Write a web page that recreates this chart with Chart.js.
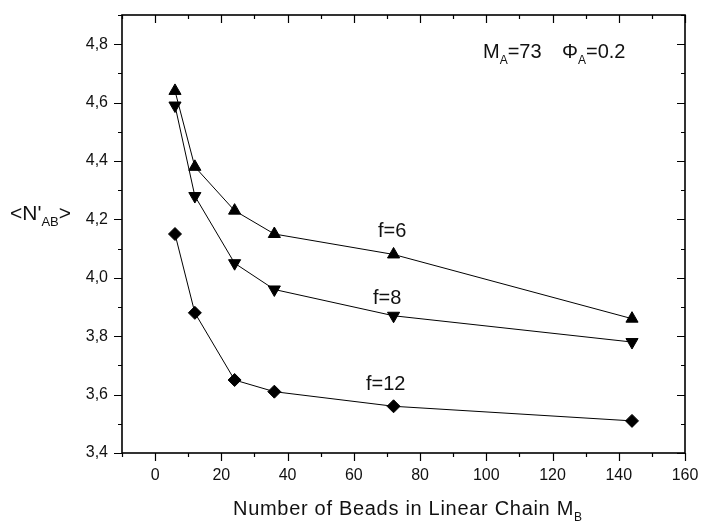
<!DOCTYPE html>
<html>
<head>
<meta charset="utf-8">
<script src="https://cdn.jsdelivr.net/npm/chart.js@4.4.0/dist/chart.umd.min.js"></script>
<style>
  html, body { margin: 0; padding: 0; background: #fff; }
  #plot { display: block; }
</style>
</head>
<body>
<canvas id="plot" width="706" height="523"></canvas>
<script>
// chain lengths M_B
const beads = [6, 12, 24, 36, 72, 144];
// <N'_AB> for each functionality
const f6 = [4.64, 4.38, 4.23, 4.15, 4.08, 3.86];
const f8 = [4.59, 4.28, 4.05, 3.96, 3.87, 3.78];
const f12 = [4.15, 3.88, 3.65, 3.61, 3.56, 3.51];

const xTicks = [0, 20, 40, 60, 80, 100, 120, 140, 160];
const yTicks = [3.4, 3.6, 3.8, 4.0, 4.2, 4.4, 4.6, 4.8];

const FONT = '"Liberation Sans", Arial, sans-serif';

function pts(ys) {
    return beads.map((x, i) => ({x: x, y: ys[i]}));
}

function series(label, ys, style, rot, r) {
    return {
        label: label,
        data: pts(ys),
        showLine: true,
        borderColor: '#000',
        borderWidth: 1,
        backgroundColor: '#000',
        pointBackgroundColor: '#000',
        pointBorderColor: '#000',
        pointBorderWidth: 1,
        pointStyle: style,
        pointRotation: rot,
        pointRadius: r,
        pointHoverRadius: r
    };
}

// text with subscript chunks: parts = [[text, isSub], ...]
function drawRich(ctx, x, y, parts, size, spacing) {
    let cx = x;
    ctx.letterSpacing = (spacing || 0) + 'px';
    parts.forEach(p => {
        const sub = p[1];
        ctx.font = (sub ? Math.round(size * 0.62) : size) + 'px ' + FONT;
        ctx.fillText(p[0], cx, sub ? y + size * 0.3 : y);
        cx += ctx.measureText(p[0]).width;
    });
    ctx.letterSpacing = '0px';
}

// no extra room for labels, keep the plot box fixed
function noPad(s) {
    s.paddingLeft = 0; s.paddingRight = 0;
    s.paddingTop = 0; s.paddingBottom = 0;
}

const framePlugin = {
    id: 'frame',
    afterDraw(chart) {
        const ctx = chart.ctx;
        const a = chart.chartArea;
        const xs = chart.scales.x, ys = chart.scales.y;
        ctx.save();
        ctx.strokeStyle = '#000';
        ctx.lineWidth = 1.6;
        ctx.strokeRect(a.left, a.top, a.right - a.left, a.bottom - a.top);

        ctx.lineWidth = 1.2;
        ctx.beginPath();
        // x ticks every 10, major every 20
        for (let v = -10; v <= 160; v += 10) {
            const px = Math.round(xs.getPixelForValue(v)) + 0.5;
            const len = v % 20 === 0 ? 8 : 4;
            ctx.moveTo(px, a.bottom); ctx.lineTo(px, a.bottom + len);
            ctx.moveTo(px, a.top); ctx.lineTo(px, a.top + len);
        }
        // y ticks every 0.1, major every 0.2
        for (let k = 34; k <= 49; k++) {
            const py = Math.round(ys.getPixelForValue(k / 10)) + 0.5;
            const len = k % 2 === 0 ? 8 : 4;
            ctx.moveTo(a.left, py); ctx.lineTo(a.left - len, py);
            ctx.moveTo(a.right, py); ctx.lineTo(a.right - len, py);
        }
        ctx.stroke();

        ctx.fillStyle = '#111';
        ctx.textBaseline = 'alphabetic';
        ctx.textAlign = 'left';

        // series labels
        ctx.font = '20px ' + FONT;
        ctx.fillText('f=6', 378, 237);
        ctx.fillText('f=8', 373, 304);
        ctx.fillText('f=12', 366, 390);

        // parameters
        drawRich(ctx, 483, 58, [['M', false], ['A', true], ['=73', false]], 20);
        drawRich(ctx, 562, 58, [['\u03A6', false], ['A', true], ['=0.2', false]], 20);

        // axis titles
        drawRich(ctx, 10, 220, [['<N\'', false], ['AB', true], ['>', false]], 21);
        drawRich(ctx, 233, 515, [['Number of Beads in Linear Chain M', false], ['B', true]], 20, 0.7);
        ctx.restore();
    }
};

new Chart(document.getElementById('plot'), {
    type: 'scatter',
    data: {
        datasets: [
            series('f=6', f6, 'triangle', 0, 7),
            series('f=8', f8, 'triangle', 180, 7),
            series('f=12', f12, 'rectRot', 0, 6.5)
        ]
    },
    options: {
        responsive: false,
        animation: false,
        layout: {padding: {top: 15, right: 21, left: 0, bottom: 0}},
        plugins: {legend: {display: false}, tooltip: {enabled: false}},
        scales: {
            x: {
                type: 'linear',
                min: -10,
                max: 160,
                afterBuildTicks: s => { s.ticks = xTicks.map(v => ({value: v})); },
                afterFit: s => { s.height = 70; noPad(s); },
                grid: {display: false, drawTicks: false},
                border: {display: false},
                ticks: {
                    padding: 13,
                    color: '#111',
                    font: {family: FONT, size: 16},
                    maxRotation: 0,
                    autoSkip: false
                }
            },
            y: {
                type: 'linear',
                min: 3.4,
                max: 4.9,
                afterBuildTicks: s => { s.ticks = yTicks.map(v => ({value: v})); },
                afterFit: s => { s.width = 122; noPad(s); },
                grid: {display: false, drawTicks: false},
                border: {display: false},
                ticks: {
                    padding: 14,
                    color: '#111',
                    font: {family: FONT, size: 16},
                    autoSkip: false,
                    callback: v => v.toFixed(1).replace('.', ',')
                }
            }
        }
    },
    plugins: [framePlugin]
});
</script>
</body>
</html>
